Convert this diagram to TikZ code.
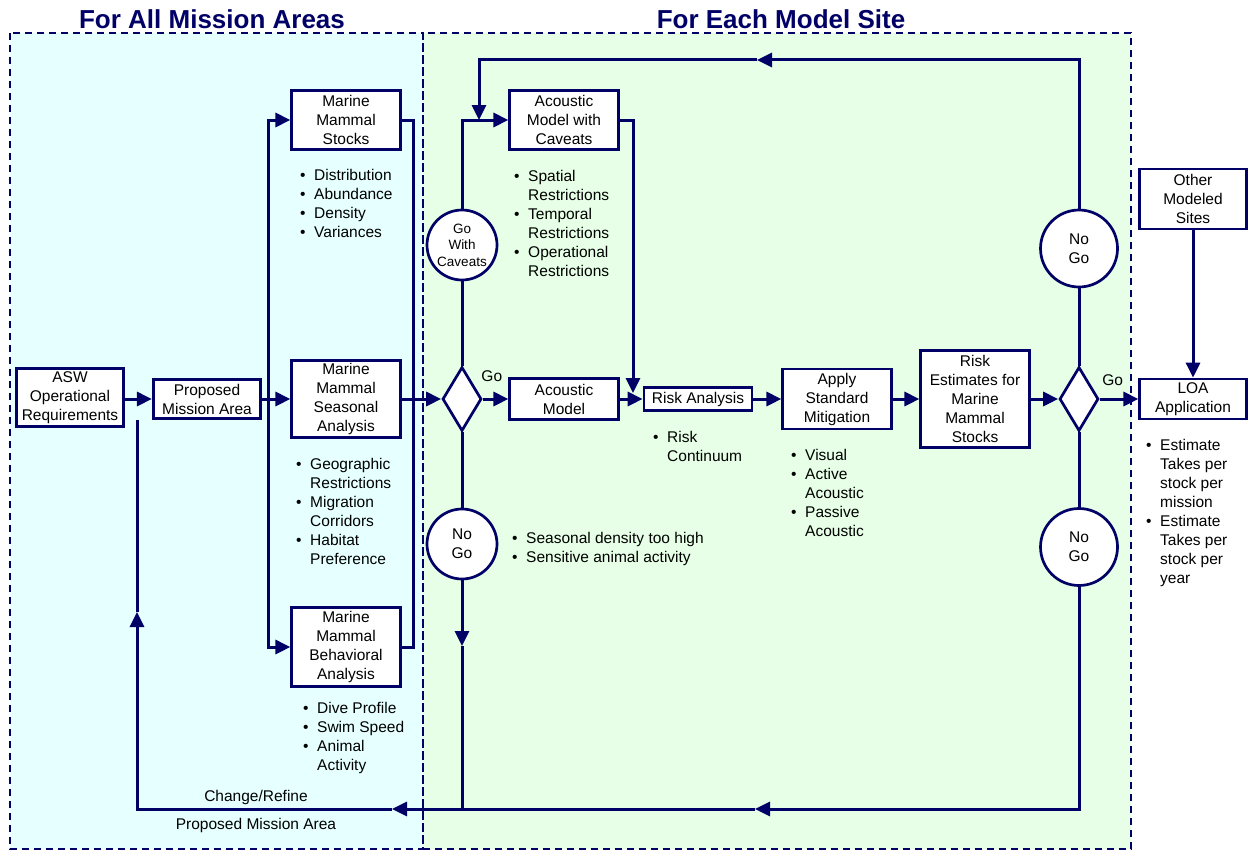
\documentclass[tikz,border=0pt]{standalone}
\usepackage{fontspec}
\setmainfont{Liberation Sans}
\usetikzlibrary{arrows.meta,shapes.geometric}
\definecolor{navy}{RGB}{0,0,102}
\definecolor{leftbg}{RGB}{230,255,255}
\definecolor{rightbg}{RGB}{230,255,230}
\newcommand\bitem{\makebox[14pt][l]{\textbullet}}
\newcommand\bcont{\hspace*{14pt}}
\begin{document}
\begin{tikzpicture}[x=1pt,y=-1pt,
  lw/.style={line width=2.7pt, draw=navy},
  box/.style={rectangle, lw, fill=white, inner sep=0pt, align=center, font=\fontsize{15.5}{19}\selectfont},
  circ/.style={circle, lw, fill=white, inner sep=0pt, align=center, font=\fontsize{15.5}{19}\selectfont},
  dia/.style={diamond, lw, fill=white, inner sep=0pt, minimum width=39pt, minimum height=64pt},
  conn/.style={line width=3pt, draw=navy},
  arr/.style={conn, -{Triangle[length=15pt,width=14pt]}},
  blist/.style={anchor=north west, inner sep=0pt, align=left, font=\fontsize{15.5}{19}\selectfont},
  lab/.style={inner sep=0pt, font=\fontsize{15.5}{19}\selectfont},
  titlestyle/.style={font=\fontsize{26}{30}\bfseries\selectfont, text=navy},
  region/.style={line width=1.8pt, draw=navy, dash pattern=on 7pt off 5pt}
]
\useasboundingbox (0,0) rectangle (1249,851);
% regions
\fill[leftbg] (10,33) rectangle (423,849);
\fill[rightbg] (423,33) rectangle (1131,849);
\draw[region] (10,33) rectangle (423,849);
\draw[region] (423,33) rectangle (1131,849);
\node[titlestyle] (t1) at (212,19) {For All Mission Areas};
\node[titlestyle] (t2) at (781,19) {For Each Model Site};

% boxes
\node[box, minimum width=106.5pt, minimum height=57.5pt] (asw) at (70,397.5) {ASW\\Operational\\Requirements};
\node[box, minimum width=107.5pt, minimum height=39.5pt] (pma) at (207,399) {Proposed\\Mission Area};
\node[box, minimum width=108.5pt, minimum height=59.5pt] (stk) at (346,120) {Marine\\Mammal\\Stocks};
\node[box, minimum width=108.5pt, minimum height=77.5pt] (sea) at (346,399) {Marine\\Mammal\\Seasonal\\Analysis};
\node[box, minimum width=108.5pt, minimum height=79.5pt] (beh) at (346,647) {Marine\\Mammal\\Behavioral\\Analysis};
\node[box, minimum width=108.5pt, minimum height=59.5pt] (amc) at (564,120) {Acoustic\\Model with\\Caveats};
\node[box, minimum width=108.5pt, minimum height=41pt] (am) at (564,399) {Acoustic\\Model};
\node[box, minimum width=108pt, minimum height=23pt] (ra) at (698,399) {Risk Analysis};
\node[box, minimum width=108.5pt, minimum height=60pt] (asm) at (837,399) {Apply\\Standard\\Mitigation};
\node[box, minimum width=108.5pt, minimum height=97.5pt] (re) at (975,399) {Risk\\Estimates for\\Marine\\Mammal\\Stocks};
\node[box, minimum width=106.5pt, minimum height=40pt] (loa) at (1193,399) {LOA\\Application};
\node[box, minimum width=106.5pt, minimum height=60pt] (oms) at (1193,199) {Other\\Modeled\\Sites};

% circles and diamonds
\node[circ, minimum size=70pt, font=\fontsize{13.5}{16.5}\selectfont] (gwc) at (462,245) {Go\\With\\Caveats};
\node[circ, minimum size=70pt] (ng1) at (462,544) {No\\Go};
\node[circ, minimum size=77pt] (ngu) at (1079,248.5) {No\\Go};
\node[circ, minimum size=77pt] (ngd) at (1079,547) {No\\Go};
\node[dia] (d1) at (462,399) {};
\node[dia] (d2) at (1079,399) {};

% coordinates
\coordinate (sp) at (268,399);
\coordinate (cl) at (413,399);
\coordinate (tm) at (757,60);
\coordinate (tl) at (479,60);
\coordinate (tj) at (479,120);
\coordinate (rtip) at (633,393);
\coordinate (nm) at (462,646);
\coordinate (bj) at (462,809);
\coordinate (bm) at (755,809);
\coordinate (bla) at (392,809);
\coordinate (bl) at (137,809);
\coordinate (bup) at (137,612);

% connectors
\draw[arr] (asw.east |- pma.west) -- (pma.west);
\draw[arr] (pma.east) -- (sea.west);
\draw[arr] (sp) |- (stk.west);
\draw[arr] (sp) |- (beh.west);
\draw[conn] (stk.east) -| (cl);
\draw[conn] (beh.east) -| (cl);
\draw[arr] (sea.east) -- (d1.west);
\draw[arr] (d1.east) -- node[lab, above=16pt, pos=0.35] (go1) {Go} (am.west);
\draw[conn] (d1.north) -- (gwc.south);
\draw[arr] (gwc.north) |- (amc.west);
\draw[conn] (d1.south) -- (ng1.north);
\draw[arr] (ng1.south) -- (nm);
\draw[conn] (nm) -- (bj);
\draw[arr] (amc.east) -| (rtip);
\draw[arr] (am.east) -- (ra.west);
\draw[arr] (ra.east) -- (asm.west);
\draw[arr] (asm.east) -- (re.west);
\draw[arr] (re.east) -- (d2.west);
\draw[arr] (d2.east) -- node[lab, above=12pt, pos=0.33] (go2) {Go} (loa.west);
\draw[arr] (oms.south) -- (loa.north);
\draw[conn] (d2.north) -- (ngu.south);
\draw[arr] (ngu.north) |- (tm);
\draw[arr] (tm) -- (tl) -- (tj);
\draw[conn] (d2.south) -- (ngd.north);
\draw[arr] (ngd.south) |- (bm);
\draw[arr] (bm) -- (bla);
\draw[arr] (bla) -- (bl) -- (bup);
\draw[conn] (bup) -- (bup |- pma.south);
\node[lab] (cr1) at (256,797) {Change/Refine};
\node[lab] (cr2) at (256,825) {Proposed Mission Area};

% bullet lists
\node[blist] (l1) at (300,166.5) {\strut\bitem Distribution\\\bitem Abundance\\\bitem Density\\\bitem Variances};
\node[blist] (l2) at (296,455.5) {\strut\bitem Geographic\\\bcont Restrictions\\\bitem Migration\\\bcont Corridors\\\bitem Habitat\\\bcont Preference};
\node[blist] (l3) at (303,699.5) {\strut\bitem Dive Profile\\\bitem Swim Speed\\\bitem Animal\\\bcont Activity};
\node[blist] (l4) at (514,167.5) {\strut\bitem Spatial\\\bcont Restrictions\\\bitem Temporal\\\bcont Restrictions\\\bitem Operational\\\bcont Restrictions};
\node[blist] (l5) at (512,530) {\strut\bitem Seasonal density too high\\\bitem Sensitive animal activity};
\node[blist] (l6) at (653,429) {\strut\bitem Risk\\\bcont Continuum};
\node[blist] (l7) at (791,447) {\strut\bitem Visual\\\bitem Active\\\bcont Acoustic\\\bitem Passive\\\bcont Acoustic};
\node[blist] (l8) at (1146,436.5) {\strut\bitem Estimate\\\bcont Takes per\\\bcont stock per\\\bcont mission\\\bitem Estimate\\\bcont Takes per\\\bcont stock per\\\bcont year};
\end{tikzpicture}
\end{document}
